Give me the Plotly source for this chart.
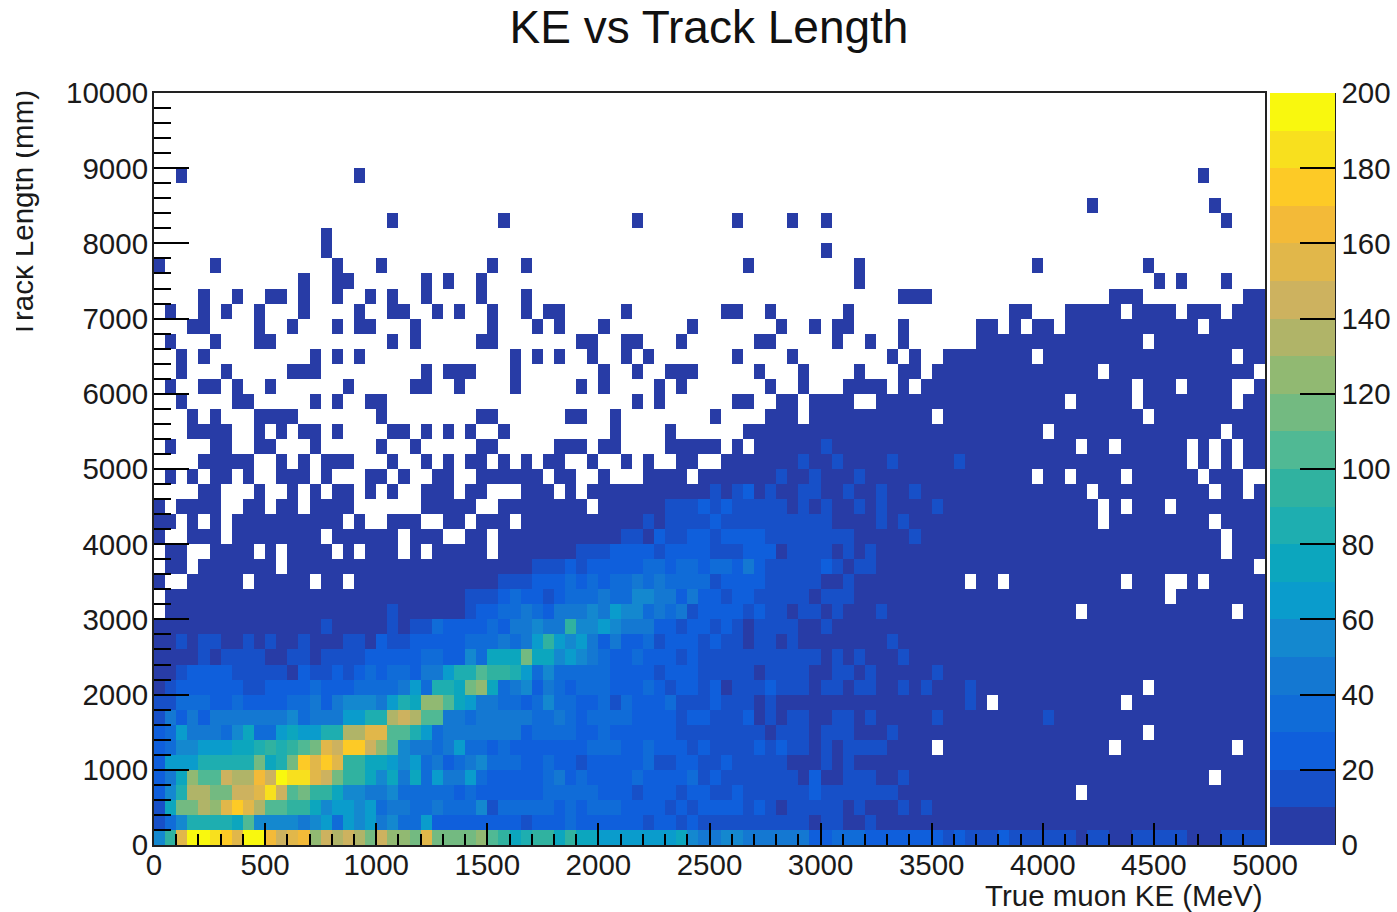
import plotly.graph_objects as go

W, H = 1397, 912
L, R, T, B = 154, 1265, 93, 845

bin_edges_x = [50 * i for i in range(101)]
bin_edges_y = [200 * j for j in range(51)]
x_centers = [e + 25 for e in bin_edges_x[:-1]]
y_centers = [e + 100 for e in bin_edges_y[:-1]]

# Each char is the colour band a bin falls in: '.' empty, 0-9 then a-j = 0-10, 10-20 ... 190-200 entries.
band_codes = "0123456789abcdefghij"
E = ".........."
rows_top_down = [
 " ".join([E]*10),
 " ".join([E]*10),
 " ".join([E]*10),
 " ".join([E]*10),
 " ".join([E]*10),
 "..0....... ........0. .......... .......... .......... .......... .......... .......... .......... ....0.....",
 " ".join([E]*10),
 ".......... .......... .......... .......... .......... .......... .......... .......... ....0..... .....0....",
 ".......... .......... .0........ .0........ ...0...... ..0....0.. 0......... .......... .......... ......0...",
 ".......... .....0.... .......... .......... .......... .......... .......... .......... .......... ..........",
 ".......... .....0.... .......... .......... .......... .......... 0......... .......... .......... ..........",
 "0....0.... ......0... 0......... 0..0...... .......... ...0...... ...0...... .........0 .........0 ..........",
 ".......... ...0..00.. ....0.0..0 .......... .......... .......... ...0...... .......... .......... 0.0...0...",
 "....0..0.. 00.0..0..0 .0..0....0 ...0...... .......... .......... .......000 .......... ......000. ........00",
 ".0..0.0..0 ...0....0. .00..0.0.. 0..0.00... ..0....... .00..0.... ..0....... .......00. ..00000.00 00.000.000",
 "...00....0 ..0...0.00 ...0...... 0...0.0... 0.......0. ......0..0 .00....0.. ....00.0.0 0.00000000 0000.00000",
 ".0...0...0 0......... .0.0.....0 0.......00 ..00...0.. ....00.... .0..0..0.. ....000000 000000000. 0000000000",
 "..0.0..... ....0.0.0. .......... ..0.0.0..0 ..0.0..... ..0....0.. ......0.0. .00000000. 0000000000 0000000.00",
 "..0...0... ..000..... ....0.000. ..0....... 0..0..000. ....0...0. ...0...00. 0000000000 00000.0000 000000000.",
 ".0..00.0.. 0......0.. ...00..0.. ..0.....0. 0....0.0.. .....0..0. ..0000.0.0 0000000000 00000000.0 00.0000..0",
 "..0....00. ....0.0..0 0......... .......... ...0.0.... ..00..00.0 000..00000 0000000000 00.00000.0 0000000.00",
 "...0.0...0 000....... 0........0 0......00. .0........ 0....000.0 0000000000 .000000000 000000000. 0000000000",
 "...0000..0 .0.00.0... .00.0.0.0. .0........ .0....0... ...0000000 0000000000 0000000000 .000000000 000000.000",
 ".0...00..0 0...0..... 0..0.....0 0.....000. 00....0000 0.0.000000 1000000000 0000000000 000.00.000 000.0.0.00",
 "....00000. .0.0.000.. .0..0.0.00 .0.0.00..0 ..0.0..00. .000000010 0100001000 0010000000 0000000000 000.0.0.00",
 ".0.0.00.0. .000.0...0 0.0..00..0 00000.00.. 0...0000.0 0000001001 0001000000 000000000. 00.0000.00 0000.000..",
 "....00...0 ..0.0.00.0 .0..000.00 ...000.0.0 0000000000 1012010011 0010010010 0000000000 0000.00000 00000.00.0",
 "0.0000..00 .00.0000.. ....00000. .00000000. 0000001112 1211111010 1001010000 1000000000 00000.0.00 0.00000000",
 "00.0.0.000 0000000.0. .000..00.0 00.0000000 0000101111 2111111111 1000010100 0000000000 00000.0000 00000.0000",
 "0..000.000 00000.0000 00.000..00 .000000000 0011021122 1222211111 1110000010 0000000000 0000000000 000000.000",
 ".00..0000. 0.0000.0.0 00.0.00000 .000000011 1222212222 1112220111 1010100000 0000000000 0000000000 000000.000",
 ".00.000000 0.00000000 0000000000 0000111212 2222332332 3324211111 2101100000 0000000000 0000000000 000000000.",
 "0..00000.0 0000.00.00 0000000000 0111222323 2334343333 1222211111 0010000000 000.00.000 0000000.00 0..0.00000",
 ".000000000 0000000000 0000000011 1232212333 4335544242 2122111110 1110000000 0000000000 0000000000 0.00000000",
 ".000000000 0000000000 0100000012 2334324445 4655343412 2221211011 0100010000 0000000000 000.000000 0000000.00",
 "0000000000 0000010000 0101132222 3244544955 6544422122 1210111100 1000000000 0000000000 0000000000 0000000000",
 "0010110010 1001000110 2112222233 3434696564 2422312221 2110110100 0000001000 0000000000 0000000000 0000000000",
 "0000101111 0011011112 2222332253 777b775654 3223222121 1111111111 0101000100 0000000000 0000000000 0000000000",
 "0012222111 1102112123 233244688a 9986353333 3222212221 1111011110 0110100000 1000000000 0000000000 0000000000",
 "0122222211 2222322233 33463887bc 7345243233 3222321221 2011121110 1101100101 0001000000 000000000. 0000000000",
 "1133322322 2233424555 4687cca764 4332353322 3132223111 2111010000 0000000000 00010.0000 0000000.00 0000000000",
 "1424244444 4453444668 8dedaa4434 4444334323 3332222122 1112010110 0110100000 1000000000 1000000000 0000000000",
 "2364443573 3676688ddf faa8634444 4442333322 3222222111 1111101110 1110001000 0000000000 000000000. 0000000000",
 "2355666778 989abfehhe ca54434633 2322222223 3322322212 1111212110 1011110000 .000000000 000000.000 0000000.00",
 "266688888b 78bhfhf997 7656342345 3332232212 2222311221 1211111000 1010000000 0000000000 0000000000 0000000000",
 "247caaeddg ejiifeb997 5747364463 2222234232 2223222231 2111111102 0011100100 0000000000 0000000000 00000.0000",
 "258ddbbeef ieab997554 4533333232 2222233333 2221222122 1121111112 1111111000 0000000000 000.000000 0000000000",
 "17bbdcfhfd aa99756656 3443343335 1333332323 3322221212 2221210111 1101000101 0000000000 0000000000 0000000000",
 "13588887a5 5554563656 4533622222 2221222322 2222122121 1111111110 1100100000 0000000000 0000000000 0000000000",
 "59fjjihfjj gefgcededb eccbfbbbbc a978997977 6666666754 4554444442 2333222222 2121112111 1110110011 1110001111",
]

band_colors = [
 "#283ca6", "#1750c8", "#0f5fdc", "#106cd8", "#1478d2", "#1488cf", "#0a9ccc", "#0ca6be",
 "#1eaeb0", "#30b2a0", "#50b994", "#73ba81", "#91b972", "#b0b468", "#cdb25f", "#e1b74a",
 "#f3ba38", "#fdca26", "#f8e01e", "#f9f80e",
]

x_tick_labels = ["0", "500", "1000", "1500", "2000", "2500", "3000", "3500", "4000", "4500", "5000"]
y_tick_labels = ["0", "1000", "2000", "3000", "4000", "5000", "6000", "7000", "8000", "9000", "10000"]


def decode(row):
    s = row.replace(" ", "")
    assert len(s) == 100, (len(s), row)
    return [None if c == "." else band_codes.index(c) * 10 + 5 for c in s]


z = [decode(r) for r in reversed(rows_top_down)]
assert len(z) == 50

colorscale = []
n = len(band_colors)
for i, c in enumerate(band_colors):
    colorscale.append([i / n, c])
    colorscale.append([(i + 1) / n, c])

FONT = "Liberation Sans"
FS = 29.5
TXT = "#1a1a1a"


def px(page_x):
    return (page_x - L) / (R - L)


def py(page_y):
    return (B - page_y) / (B - T)


fig = go.Figure(go.Heatmap(
    x=x_centers, y=y_centers, z=z, zmin=0, zmax=200, colorscale=colorscale,
    hoverongaps=False, xgap=0, ygap=0,
    colorbar=dict(
        x=px(1270), xanchor="left", xpad=0, ypad=0, y=0, yanchor="bottom",
        len=1, lenmode="fraction", thickness=65, thicknessmode="pixels",
        tickmode="array", tickvals=[20 * i for i in range(11)], ticktext=[str(20 * i) for i in range(11)],
        ticks="inside", ticklen=35, tickwidth=2, tickcolor="black",
        tickfont=dict(family=FONT, size=FS, color=TXT),
        outlinewidth=0, bgcolor="rgba(0,0,0,0)",
    ),
))

fig.update_layout(
    width=W, height=H, autosize=False,
    margin=dict(l=L, r=W - R, t=T, b=H - B, pad=0, autoexpand=False),
    paper_bgcolor="white", plot_bgcolor="white",
    font=dict(family=FONT, size=FS, color=TXT),
    title=dict(text="KE vs Track Length", x=709 / W, xanchor="center",
               y=1 - 27 / H, yanchor="middle",
               font=dict(family=FONT, size=46, color="#111")),
    xaxis=dict(range=[0, 5000], tickmode="array", tickvals=[500 * i for i in range(11)], ticktext=x_tick_labels,
               ticks="inside", ticklen=22, tickwidth=2, tickcolor="black", ticklabelstandoff=-7,
               minor=dict(tickmode="array", tickvals=[100 * i for i in range(51) if i % 5], ticks="inside", ticklen=11, tickwidth=2, tickcolor="black"),
               showline=True, linecolor="#222", linewidth=2, mirror=True, showgrid=False, zeroline=False,
               tickfont=dict(family=FONT, size=FS, color=TXT), tickangle=0),
    yaxis=dict(range=[0, 10000], tickmode="array", tickvals=[1000 * i for i in range(11)], ticktext=y_tick_labels,
               ticks="inside", ticklen=35, tickwidth=2, tickcolor="black", ticklabelstandoff=-2,
               minor=dict(tickmode="array", tickvals=[200 * i for i in range(51) if i % 5], ticks="inside", ticklen=17, tickwidth=2, tickcolor="black"),
               showline=True, linecolor="#222", linewidth=2, mirror=True, showgrid=False, zeroline=False,
               tickfont=dict(family=FONT, size=FS, color=TXT)),
    shapes=[
        dict(type="line", xref="paper", yref="paper", x0=px(1335), x1=px(1335), y0=0, y1=1,
             line=dict(color="#222", width=2)),
    ],
    annotations=[
        dict(text="True muon KE (MeV)", xref="paper", yref="paper", x=1, y=py(895), xanchor="right", yanchor="middle",
             showarrow=False, font=dict(family=FONT, size=FS, color=TXT)),
        dict(text="Track Length (mm)", xref="paper", yref="paper", x=px(22), y=py(88), xanchor="center", yanchor="top",
             textangle=-90, showarrow=False, font=dict(family=FONT, size=FS, color=TXT)),
        dict(text=" ", xref="paper", yref="paper", x=px(0), y=py(80), xanchor="left", yanchor="top", width=16, height=270,
             bgcolor="white", showarrow=False, borderpad=0, borderwidth=0, font=dict(size=10)),
    ],
)

fig.write_html("out.html", config={"displayModeBar": False}, post_script="document.body.style.margin='0';")
